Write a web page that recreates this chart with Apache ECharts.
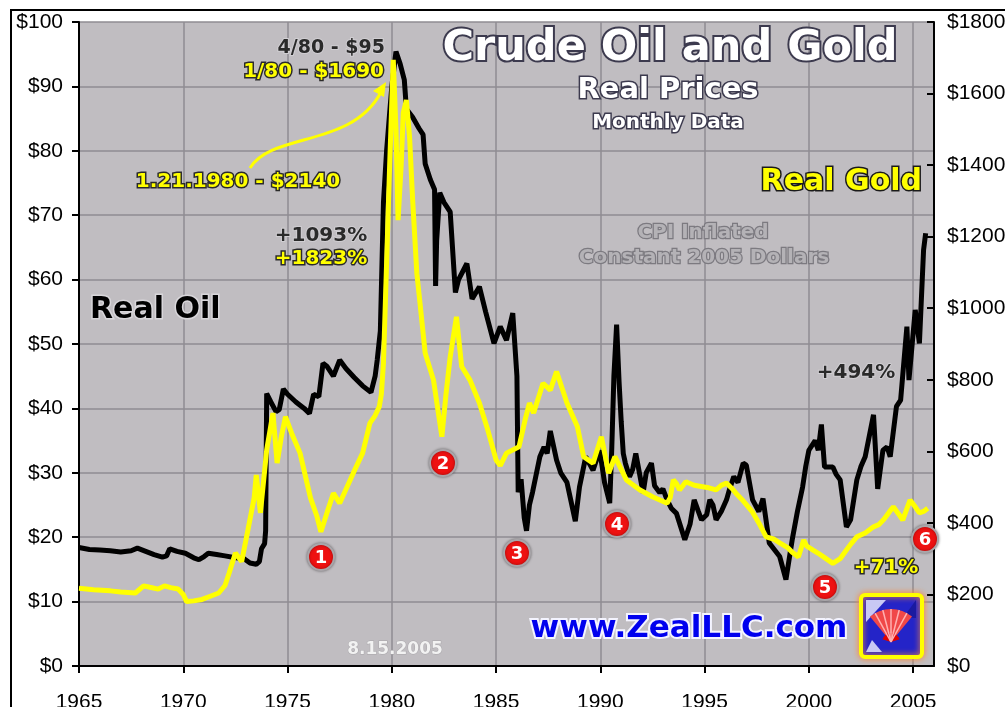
<!DOCTYPE html>
<html>
<head>
<meta charset="utf-8">
<title>Crude Oil and Gold - Real Prices</title>
<script src="https://cdn.jsdelivr.net/npm/echarts@6/dist/echarts.min.js"></script>
<style>
  html, body { margin: 0; padding: 0; background: #fff; }
  #chart { width: 1005px; height: 707px; }
</style>
</head>
<body>
<div id="chart"></div>
<script>
// real oil, left axis ($ per barrel, constant 2005 dollars)
var oilYears = [1965.0, 1965.5, 1966.0, 1966.5, 1967.0, 1967.5, 1967.8, 1968.2, 1968.6, 1969.0,
  1969.2, 1969.35, 1969.7, 1970.1, 1970.5, 1970.75, 1971.0, 1971.2, 1971.6, 1972.0,
  1972.5, 1972.9, 1973.2, 1973.5, 1973.65, 1973.75, 1973.9, 1973.95, 1974.0, 1974.2,
  1974.45, 1974.6, 1974.8, 1975.0, 1975.4, 1975.8, 1976.05, 1976.25, 1976.5, 1976.7,
  1976.9, 1977.2, 1977.5, 1977.8, 1978.2, 1978.6, 1979.0, 1979.2, 1979.3, 1979.45,
  1979.6, 1979.75, 1979.85, 1980.0, 1980.2, 1980.4, 1980.6, 1980.7, 1981.0, 1981.3,
  1981.5, 1981.6, 1981.85, 1982.05, 1982.1, 1982.15, 1982.3, 1982.5, 1982.8, 1983.05,
  1983.2, 1983.6, 1983.85, 1984.2, 1984.5, 1984.9, 1985.2, 1985.5, 1985.8, 1986.0,
  1986.06, 1986.2, 1986.35, 1986.46, 1986.6, 1986.75, 1987.1, 1987.3, 1987.45, 1987.6,
  1987.9, 1988.1, 1988.4, 1988.8, 1989.0, 1989.3, 1989.65, 1989.97, 1990.2, 1990.45,
  1990.55, 1990.65, 1990.78, 1990.9, 1991.0, 1991.1, 1991.2, 1991.4, 1991.55, 1991.7,
  1992.05, 1992.2, 1992.45, 1992.6, 1992.85, 1993.0, 1993.2, 1993.4, 1993.65, 1994.05,
  1994.3, 1994.5, 1994.7, 1994.85, 1995.1, 1995.25, 1995.4, 1995.55, 1995.8, 1996.05,
  1996.2, 1996.4, 1996.6, 1996.85, 1997.0, 1997.3, 1997.6, 1997.8, 1998.1, 1998.6,
  1998.9, 1999.2, 1999.45, 1999.7, 1999.85, 2000.0, 2000.3, 2000.45, 2000.6, 2000.75,
  2001.15, 2001.3, 2001.5, 2001.8, 2002.0, 2002.3, 2002.5, 2002.7, 2003.1, 2003.3,
  2003.55, 2003.75, 2003.9, 2004.2, 2004.4, 2004.7, 2004.8, 2005.1, 2005.3, 2005.5,
  2005.6];
var oilValues = [18.4, 18.1, 18.0, 17.9, 17.7, 17.9, 18.3, 17.8, 17.3, 16.9,
  17.1, 18.2, 17.8, 17.5, 16.8, 16.5, 17.0, 17.5, 17.3, 17.1,
  16.8, 16.7, 16.0, 15.8, 16.2, 18.2, 19.0, 21.0, 42.3, 41.0,
  39.5, 39.8, 43.0, 42.2, 41.0, 40.0, 39.2, 42.2, 41.8, 47.0,
  46.5, 45.0, 47.5, 46.2, 44.8, 43.5, 42.5, 45.0, 47.5, 52.0,
  72.0, 80.0, 84.0, 90.0, 95.4, 93.5, 91.0, 86.5, 85.2, 83.5,
  82.5, 78.0, 75.5, 74.0, 59.0, 66.0, 73.5, 72.0, 70.5, 58.0,
  60.0, 62.5, 57.0, 58.9, 55.0, 50.1, 52.7, 50.6, 54.8, 45.0,
  27.0, 29.0, 23.0, 21.0, 25.0, 27.0, 32.5, 34.0, 33.0, 36.5,
  32.0, 30.0, 28.5, 22.5, 27.8, 32.5, 30.4, 33.5, 28.5, 25.3,
  34.0, 45.0, 53.0, 44.0, 38.0, 33.0, 31.5, 29.4, 30.5, 33.0,
  26.9, 30.0, 31.5, 28.0, 26.9, 27.5, 25.8, 24.5, 23.7, 19.6,
  22.0, 25.8, 24.0, 22.7, 23.5, 25.8, 25.0, 22.7, 24.0, 25.8,
  27.5, 29.4, 28.5, 31.5, 31.2, 25.8, 24.0, 26.0, 19.1, 17.0,
  13.4, 19.6, 24.0, 27.8, 31.0, 33.5, 35.0, 33.5, 37.5, 30.9,
  30.9, 29.8, 28.9, 21.6, 22.7, 28.9, 31.0, 32.5, 39.0, 27.5,
  33.5, 34.0, 32.5, 40.3, 41.3, 52.7, 44.4, 55.3, 50.1, 64.6,
  67.2];

// real gold, right axis ($ per ounce, constant 2005 dollars)
var goldYears = [1965.0, 1965.7, 1966.5, 1967.0, 1967.7, 1968.1, 1968.4, 1968.8, 1969.1, 1969.4,
  1969.75, 1970.0, 1970.16, 1970.5, 1970.9, 1971.3, 1971.7, 1972.0, 1972.2, 1972.5,
  1972.8, 1973.1, 1973.4, 1973.5, 1973.7, 1974.0, 1974.3, 1974.5, 1974.7, 1974.9,
  1975.2, 1975.6, 1976.1, 1976.4, 1976.6, 1976.9, 1977.2, 1977.5, 1978.15, 1978.6,
  1978.95, 1979.2, 1979.4, 1979.5, 1979.6, 1979.75, 1979.9, 1980.07, 1980.2, 1980.3,
  1980.45, 1980.55, 1980.7, 1980.85, 1981.0, 1981.2, 1981.35, 1981.6, 1982.0, 1982.2,
  1982.4, 1982.6, 1982.8, 1983.1, 1983.35, 1983.75, 1984.2, 1984.6, 1985.0, 1985.2,
  1985.5, 1986.1, 1986.4, 1986.6, 1986.8, 1987.25, 1987.6, 1987.9, 1988.4, 1988.9,
  1989.2, 1989.65, 1990.05, 1990.4, 1990.7, 1991.25, 1991.9, 1992.5, 1993.2, 1993.35,
  1993.5, 1993.65, 1993.8, 1994.1, 1994.5, 1994.9, 1995.2, 1995.55, 1995.8, 1996.05,
  1996.3, 1996.5, 1996.8, 1997.3, 1997.6, 1997.95, 1998.3, 1998.6, 1999.0, 1999.2,
  1999.5, 1999.75, 1999.9, 2000.2, 2000.45, 2000.7, 2001.15, 2001.5, 2001.8, 2002.0,
  2002.3, 2002.7, 2003.1, 2003.35, 2003.6, 2003.85, 2004.05, 2004.3, 2004.5, 2004.7,
  2004.85, 2005.1, 2005.3, 2005.5, 2005.7];
var goldValues = [217, 213, 210, 207, 204, 224, 220, 215, 224, 219,
  215, 200, 180, 182, 186, 195, 204, 225, 260, 316,
  292, 380, 470, 534, 428, 604, 707, 567, 640, 697,
  650, 595, 470, 420, 375, 430, 483, 455, 539, 595,
  679, 700, 725, 760, 847, 1126, 1406, 1694, 1500, 1246,
  1400, 1546, 1582, 1480, 1302, 1098, 1015, 875, 799, 720,
  641, 760, 864, 976, 837, 799, 735, 660, 576, 560,
  595, 613, 690, 735, 707, 790, 771, 823, 735, 669,
  585, 567, 641, 539, 585, 520, 492, 473, 455, 470,
  520, 510, 492, 515, 505, 501, 498, 492, 505, 511,
  497, 483, 465, 430, 400, 361, 355, 344, 330, 318,
  305, 352, 335, 324, 315, 305, 287, 300, 324, 340,
  361, 372, 389, 395, 410, 430, 445, 425, 408, 440,
  464, 445, 428, 432, 441];

var yearTicks = [1965, 1970, 1975, 1980, 1985, 1990, 1995, 2000, 2005];

function zip(xs, ys) {
  return xs.map(function (x, i) { return [x, ys[i]]; });
}

// text with outline, like the original image labels
function label(text, x, y, size, fill, stroke, align, lw) {
  return {
    type: "text",
    x: x,
    y: y,
    z: 100,
    style: {
      text: text,
      font: "bold " + size + 'px "DejaVu Sans"',
      fill: fill,
      stroke: stroke,
      lineWidth: lw === undefined ? 3 : lw,
      strokeFirst: true,
      align: align || "center",
      textAlign: align || "center",
      verticalAlign: "middle",
      textVerticalAlign: "middle",
    },
  };
}

function badge(num, x, y) {
  return [
    {
      type: "circle",
      z: 100,
      shape: { cx: x, cy: y, r: 13 },
      style: { fill: "#ee1111", stroke: "#a9a6aa", lineWidth: 2, shadowBlur: 3, shadowColor: "rgba(0,0,0,0.4)" },
    },
    {
      type: "text",
      z: 101,
      x: x,
      y: y + 1,
      style: {
        text: String(num),
        font: 'bold 18px "DejaVu Sans"',
        fill: "#fff",
        align: "center",
        textAlign: "center",
        verticalAlign: "middle",
        textVerticalAlign: "middle",
      },
    },
  ];
}

var chart = echarts.init(document.getElementById("chart"));

var graphics = [
  // outer frame
  {
    type: "rect",
    z: 0,
    shape: { x: 11, y: 10, width: 1100, height: 1000 },
    style: { fill: "none", stroke: "#000", lineWidth: 2 },
  },
  label("Crude Oil and Gold", 670, 49, 43, "#ffffff", "#3c3a4e", "center", 4),
  label("Real Prices", 668, 90, 29, "#ffffff", "#3c3a4e", "center", 3),
  label("Monthly Data", 668, 123, 20, "#ffffff", "#3c3a4e", "center", 3),
  label("Real Gold", 922, 182, 30, "#ffff00", "#1a1a1a", "right", 3),
  label("CPI Inflated", 703, 233, 20, "#b4b2b6", "#7c7a80", "center", 2.5),
  label("Constant 2005 Dollars", 704, 258, 20, "#b4b2b6", "#7c7a80", "center", 2.5),
  label("Real Oil", 90, 310, 30, "#000000", "#d8d6da", "left", 3),
  label("4/80 - $95", 385, 48, 19, "#2a2a2a", "#d0ced2", "right", 2),
  label("1/80 - $1690", 384, 72, 20, "#ffff00", "#2a2a2a", "right", 3),
  label("1.21.1980 - $2140", 238, 182, 20, "#ffff00", "#2a2a2a", "center", 3),
  label("+1093%", 321, 236, 20, "#2a2a2a", "#d0ced2", "center", 2),
  label("+1823%", 321, 259, 20, "#ffff00", "#2a2a2a", "center", 3),
  label("+494%", 856, 373, 20, "#2a2a2a", "#d0ced2", "center", 2),
  label("+71%", 886, 568, 20, "#ffff00", "#2a2a2a", "center", 3),
  label("www.ZealLLC.com", 689, 629, 31, "#0000ee", "#f4f4ff", "center", 4),
  label("8.15.2005", 395, 650, 17, "#f2f2f2", "#a8a6aa", "center", 1),
  // arrow from the intraday gold high to the monthly peak
  {
    type: "bezierCurve",
    z: 90,
    shape: { x1: 250, y1: 168, cpx1: 272, cpy1: 132, cpx2: 352, cpy2: 148, x2: 381, y2: 92 },
    style: { stroke: "#ffff00", lineWidth: 3, fill: "none" },
  },
  {
    type: "polygon",
    z: 90,
    shape: { points: [[386, 82], [373, 91], [384, 97]] },
    style: { fill: "#ffff00" },
  },
  // logo
  {
    type: "rect",
    z: 95,
    shape: { x: 861, y: 595, width: 61, height: 62, r: 4 },
    style: { fill: "#2424c8", stroke: "#ffff00", lineWidth: 4, shadowBlur: 6, shadowColor: "#ff8a3a" },
  },
  {
    type: "polygon",
    z: 96,
    shape: { points: [[866, 600], [886, 600], [866, 622]] },
    style: { fill: "#c8c8f4" },
  },
  {
    type: "polygon",
    z: 96,
    shape: { points: [[866, 652], [872, 640], [882, 652]] },
    style: { fill: "#c8c8f4" },
  },
  {
    type: "polygon",
    z: 96,
    shape: { points: [[903, 618], [916, 600], [916, 618]] },
    style: { fill: "#1a1aa0" },
  },
  {
    type: "sector",
    z: 97,
    shape: { cx: 891, cy: 642, r0: 0, r: 33, startAngle: -Math.PI * 0.72, endAngle: -Math.PI * 0.28 },
    style: { fill: "#f04848" },
  },
  {
    type: "sector",
    z: 98,
    shape: { cx: 891, cy: 642, r0: 0, r: 9, startAngle: -Math.PI * 0.9, endAngle: -Math.PI * 0.1 },
    style: { fill: "#e00000" },
  },
];
[-0.66, -0.58, -0.5, -0.42, -0.34].forEach(function (a) {
  graphics.push({
    type: "line",
    z: 98,
    shape: {
      x1: 891, y1: 642,
      x2: 891 + 33 * Math.cos(Math.PI * a), y2: 642 + 33 * Math.sin(Math.PI * a),
    },
    style: { stroke: "#ffb0b0", lineWidth: 1.5 },
  });
});
[[1, 321, 557], [2, 443, 463], [3, 517, 553], [4, 617, 524], [5, 825, 587], [6, 925, 539]].forEach(function (b) {
  graphics = graphics.concat(badge(b[0], b[1], b[2]));
});

var axisFont = { color: "#000", fontSize: 21, fontFamily: '"Liberation Sans", Arial, sans-serif' };

var option = {
  animation: false,
  backgroundColor: "#ffffff",
  grid: {
    left: 79,
    right: 71,
    top: 22,
    bottom: 41,
    outerBoundsMode: "none",
    show: true,
    backgroundColor: "#c0bdc1",
    borderWidth: 0,
  },
  xAxis: {
    type: "value",
    min: 1965,
    max: 2006,
    interval: 5,
    axisLine: { show: true, onZero: false, lineStyle: { color: "#000", width: 2 } },
    axisTick: { show: true, length: 7, lineStyle: { color: "#000", width: 2 } },
    splitLine: { show: true, lineStyle: { color: "#8f8d92", width: 1.5 } },
    axisLabel: Object.assign({
      margin: 26,
      showMaxLabel: false,
      formatter: function (v) { return yearTicks.indexOf(v) >= 0 ? String(v) : ""; },
    }, axisFont),
  },
  yAxis: [
    {
      type: "value",
      min: 0,
      max: 100,
      interval: 10,
      position: "left",
      axisLine: { show: true, lineStyle: { color: "#000", width: 2 } },
      axisTick: { show: true, length: 7, lineStyle: { color: "#000", width: 2 } },
      splitLine: { show: true, lineStyle: { color: "#8f8d92", width: 1.5 } },
      axisLabel: Object.assign({ margin: 16, formatter: function (v) { return "$" + v; } }, axisFont),
    },
    {
      type: "value",
      min: 0,
      max: 1800,
      interval: 200,
      position: "right",
      axisLine: { show: true, lineStyle: { color: "#000", width: 2 } },
      axisTick: { show: true, inside: true, length: 7, lineStyle: { color: "#000", width: 2 } },
      splitLine: { show: false },
      axisLabel: Object.assign({ margin: 13, formatter: function (v) { return "$" + v; } }, axisFont),
    },
  ],
  series: [
    {
      name: "Real Oil",
      type: "line",
      yAxisIndex: 0,
      showSymbol: false,
      data: zip(oilYears, oilValues),
      lineStyle: { color: "#000000", width: 5 },
      z: 3,
    },
    {
      name: "Real Gold",
      type: "line",
      yAxisIndex: 1,
      showSymbol: false,
      data: zip(goldYears, goldValues),
      lineStyle: { color: "#ffff00", width: 5 },
      z: 4,
    },
  ],
  graphic: graphics,
};

chart.setOption(option);
</script>
</body>
</html>
